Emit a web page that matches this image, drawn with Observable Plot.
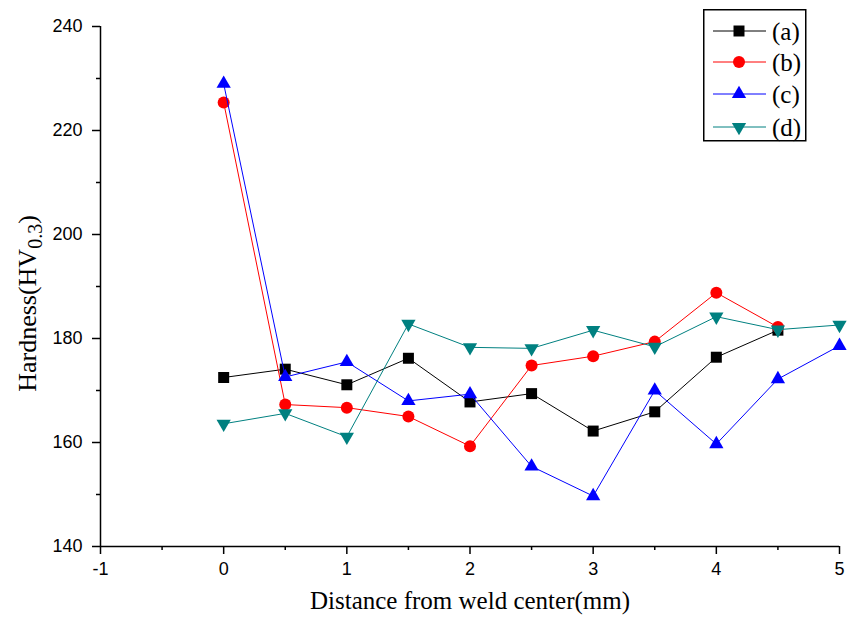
<!DOCTYPE html>
<html><head><meta charset="utf-8">
<script src="https://cdn.jsdelivr.net/npm/d3@7"></script>
<script src="https://cdn.jsdelivr.net/npm/@observablehq/plot@0.6"></script>
<style>
body{margin:0;background:#fff}
#wrap{position:relative;width:848px;height:619px;overflow:hidden;background:#fff}
#legend{position:absolute;left:703px;top:9px}
</style></head><body><div id="wrap"><div id="legend"></div></div>
<script>
// ---- data ----
const distance = [0, 0.5, 1, 1.5, 2, 2.5, 3, 3.5, 4, 4.5, 5];
const seriesLabels = ["(a)", "(b)", "(c)", "(d)"];
const hardnessA = [172.5, 174.1, 171.1, 176.2, 167.8, 169.4, 162.2, 165.9, 176.4, 181.6];
const hardnessB = [225.4, 167.3, 166.7, 165.0, 159.3, 174.8, 176.6, 179.4, 188.8, 182.2];
const hardnessC = [229.0, 172.6, 175.5, 168.0, 169.3, 155.4, 149.7, 170.0, 159.7, 172.2, 178.6];
const hardnessD = [163.6, 165.6, 161.1, 182.8, 178.3, 178.1, 181.6, 178.4, 184.2, 181.7, 182.6];
const xTicks = [-1, 0, 1, 2, 3, 4, 5];
const xMinorTicks = [-0.5, 0.5, 1.5, 2.5, 3.5, 4.5];
const yTicks = [140, 160, 180, 200, 220, 240];
const yMinorTicks = [150, 170, 190, 210, 230];
const xLabel = "Distance from weld center(mm)";
const yLabelMain = "Hardness(HV";
const yLabelSub = "0.3";
const yLabelEnd = ")";

// ---- styles ----
const seriesValues = [hardnessA, hardnessB, hardnessC, hardnessD];
const colors = ["#000000", "#ff0000", "#0000ff", "#008080"];
const downTriangle = {
  draw(ctx, size) {
    const y = -Math.sqrt(size / (Math.sqrt(3) * 3));
    ctx.moveTo(0, -y * 2);
    ctx.lineTo(Math.sqrt(3) * y, y);
    ctx.lineTo(-Math.sqrt(3) * y, y);
    ctx.closePath();
  }
};
const symbols = ["square", "circle", "triangle", downTriangle];
const radii = [6.2, 6, 5.3, 5.3];

const rows = seriesLabels.map((s, i) => seriesValues[i].map((v, j) => ({series: s, x: distance[j], y: v})));

const serif = "'Liberation Serif', 'Times New Roman', serif";
const sans = "'Liberation Sans', Arial, sans-serif";

const marks = [];
marks.push(Plot.axisX(xMinorTicks, {tickSize: 4, strokeWidth: 1.5, tickFormat: () => "", label: null}));
marks.push(Plot.axisY(yMinorTicks, {tickSize: 4, strokeWidth: 1.5, tickFormat: () => "", label: null}));
marks.push(Plot.axisX(xTicks, {tickSize: 8, tickPadding: 8, strokeWidth: 1.5, fontSize: 18, label: null, tickFormat: d => String(d)}));
marks.push(Plot.axisY(yTicks, {tickSize: 8, tickPadding: 10, strokeWidth: 1.5, fontSize: 18, label: null}));
marks.push(Plot.ruleX([-1], {strokeWidth: 1.5}));
marks.push(Plot.ruleY([140], {strokeWidth: 1.5}));
rows.forEach((data, i) => {
  marks.push(Plot.line(data, {x: "x", y: "y", stroke: colors[i], strokeWidth: 1}));
  marks.push(Plot.dot(data, {x: "x", y: "y", symbol: symbols[i], r: radii[i], fill: colors[i], stroke: "none"}));
});
marks.push(Plot.text([xLabel], {frameAnchor: "bottom", dy: 62, fontSize: 25, fontFamily: serif, fill: "#000"}));
marks.push(Plot.text([yLabelMain + yLabelSub + yLabelEnd], {frameAnchor: "left", textAnchor: "middle", rotate: -90, dx: -73, dy: 17, fontSize: 26, fontFamily: serif, fill: "#000"}));

const chart = Plot.plot({
  width: 848,
  height: 619,
  marginLeft: 100,
  marginRight: 9,
  marginTop: 26,
  marginBottom: 73,
  x: {domain: [-1, 5], axis: null},
  y: {domain: [140, 240], axis: null},
  style: {fontFamily: sans, fontSize: "17px", color: "#000", background: "#fff"},
  marks
});

// subscript for y label
d3.select(chart).selectAll("text").each(function() {
  if (this.textContent === yLabelMain + yLabelSub + yLabelEnd) {
    const t = d3.select(this);
    t.text(null);
    t.append("tspan").text(yLabelMain);
    t.append("tspan").attr("dy", "6").attr("font-size", "20").text(yLabelSub);
    t.append("tspan").attr("dy", "-6").text(yLabelEnd);
  }
});
document.getElementById("wrap").prepend(chart);

// legend
const lw = 102, lh = 131;
const leg = d3.select("#legend").append("svg").attr("width", lw + 2).attr("height", lh + 2);
leg.append("rect").attr("x", 0.75).attr("y", 0.75).attr("width", lw).attr("height", lh)
  .attr("fill", "#fff").attr("stroke", "#000").attr("stroke-width", 1.5);
const entryY = [22, 53, 85, 118];
seriesLabels.forEach((s, i) => {
  const g = leg.append("g").attr("transform", `translate(0,${entryY[i]})`);
  g.append("line").attr("x1", 10).attr("x2", 63).attr("stroke", colors[i]).attr("stroke-width", 1);
  const sym = symbols[i] === "square" ? d3.symbolSquare : symbols[i] === "circle" ? d3.symbolCircle : symbols[i] === "triangle" ? d3.symbolTriangle : downTriangle;
  g.append("path").attr("transform", "translate(36,0)").attr("d", d3.symbol(sym, radii[i] * radii[i] * Math.PI)()).attr("fill", colors[i]);
  g.append("text").attr("x", 69).attr("dy", "0.35em").attr("font-family", serif).attr("font-size", 25).text(s);
});
</script></body></html>
